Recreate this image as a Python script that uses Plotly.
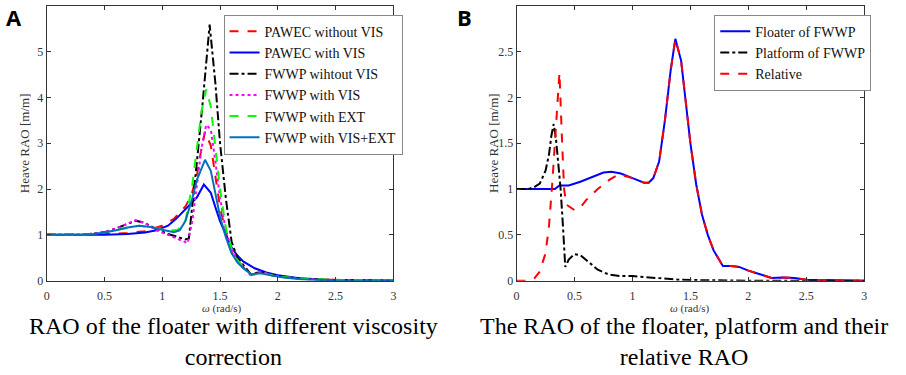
import plotly.graph_objects as go

# ---------------- Panel A data ----------------
wA_pawec_novis = [0, 0.3, 0.5, 0.7, 0.85, 1.0, 1.1, 1.2, 1.25, 1.3, 1.34, 1.37, 1.42, 1.46, 1.5, 1.55, 1.6, 1.65, 1.7, 1.77, 1.85, 1.95, 2.05, 2.2, 2.4, 2.6, 3.0]
rA_pawec_novis = [1.0, 1.0, 1.02, 1.04, 1.08, 1.2, 1.35, 1.62, 1.85, 2.3, 2.9, 3.25, 2.95, 2.3, 1.6, 1.05, 0.62, 0.45, 0.3, 0.12, 0.2, 0.12, 0.08, 0.04, 0.02, 0.01, 0.0]

wA_pawec_vis = [0, 0.3, 0.5, 0.7, 0.85, 0.95, 1.05, 1.12, 1.2, 1.25, 1.3, 1.36, 1.42, 1.46, 1.5, 1.55, 1.6, 1.65, 1.7, 1.8, 1.9, 2.0, 2.1, 2.2, 2.4, 2.6, 3.0]
rA_pawec_vis = [1.0, 1.0, 1.0, 1.02, 1.05, 1.1, 1.2, 1.35, 1.55, 1.68, 1.82, 2.1, 1.92, 1.6, 1.3, 1.0, 0.72, 0.55, 0.42, 0.27, 0.18, 0.12, 0.08, 0.05, 0.02, 0.01, 0.0]

wA_fwwp_novis = [0, 0.3, 0.4, 0.5, 0.6, 0.7, 0.77, 0.85, 0.95, 1.05, 1.15, 1.2, 1.23, 1.27, 1.3, 1.35, 1.41, 1.46, 1.5, 1.55, 1.6, 1.65, 1.7, 1.77, 1.85, 1.95, 2.05, 2.2, 2.4, 2.6, 3.0]
rA_fwwp_novis = [1.0, 1.0, 1.03, 1.06, 1.14, 1.25, 1.31, 1.26, 1.12, 1.02, 0.93, 0.9, 0.92, 1.8, 2.6, 3.9, 5.59, 4.3, 3.0, 1.8, 0.85, 0.5, 0.35, 0.13, 0.2, 0.12, 0.08, 0.04, 0.02, 0.01, 0.0]

wA_fwwp_vis = [0, 0.3, 0.4, 0.5, 0.6, 0.7, 0.77, 0.85, 0.95, 1.05, 1.15, 1.22, 1.26, 1.3, 1.34, 1.38, 1.42, 1.46, 1.5, 1.55, 1.6, 1.65, 1.7, 1.77, 1.85, 1.95, 2.05, 2.2, 2.4, 2.6, 3.0]
rA_fwwp_vis = [1.0, 1.0, 1.03, 1.06, 1.14, 1.25, 1.32, 1.26, 1.1, 1.0, 0.9, 0.82, 1.3, 2.1, 2.9, 3.4, 3.3, 2.6, 1.8, 1.1, 0.7, 0.45, 0.3, 0.1, 0.2, 0.12, 0.08, 0.04, 0.02, 0.01, 0.0]

wA_fwwp_ext = [0, 0.3, 0.4, 0.5, 0.6, 0.7, 0.8, 0.9, 1.0, 1.07, 1.13, 1.2, 1.26, 1.3, 1.34, 1.38, 1.42, 1.46, 1.5, 1.55, 1.6, 1.65, 1.7, 1.77, 1.85, 1.95, 2.05, 2.2, 2.4, 2.6, 3.0]
rA_fwwp_ext = [1.0, 1.0, 1.02, 1.05, 1.1, 1.16, 1.2, 1.17, 1.12, 1.1, 1.1, 1.3, 2.1, 2.9, 3.7, 4.18, 3.8, 2.9, 2.0, 1.15, 0.68, 0.45, 0.3, 0.13, 0.18, 0.12, 0.08, 0.04, 0.02, 0.01, 0.0]

wA_fwwp_visext = [0, 0.3, 0.4, 0.5, 0.6, 0.7, 0.8, 0.9, 1.0, 1.1, 1.15, 1.2, 1.26, 1.3, 1.37, 1.42, 1.46, 1.5, 1.55, 1.6, 1.65, 1.7, 1.77, 1.85, 1.95, 2.05, 2.2, 2.4, 2.6, 3.0]
rA_fwwp_visext = [1.0, 1.0, 1.02, 1.05, 1.1, 1.16, 1.2, 1.17, 1.11, 1.06, 1.1, 1.3, 1.8, 2.2, 2.64, 2.4, 1.9, 1.4, 0.95, 0.6, 0.4, 0.27, 0.14, 0.16, 0.11, 0.07, 0.03, 0.01, 0.0, 0.0]

# ---------------- Panel B data ----------------
wB_floater = [0, 0.3, 0.33, 0.37, 0.45, 0.55, 0.65, 0.75, 0.82, 0.9, 1.0, 1.1, 1.14, 1.18, 1.23, 1.28, 1.33, 1.37, 1.42, 1.46, 1.5, 1.55, 1.6, 1.65, 1.7, 1.78, 1.85, 1.92, 2.0, 2.1, 2.2, 2.3, 2.4, 2.5, 2.7, 3.0]
rB_floater = [1.0, 1.0, 1.0, 1.04, 1.04, 1.08, 1.13, 1.18, 1.19, 1.17, 1.12, 1.07, 1.07, 1.12, 1.3, 1.75, 2.3, 2.64, 2.4, 1.95, 1.5, 1.05, 0.72, 0.5, 0.33, 0.16, 0.16, 0.15, 0.11, 0.07, 0.03, 0.035, 0.03, 0.01, 0.005, 0.0]

wB_platform = [0, 0.1, 0.15, 0.2, 0.25, 0.28, 0.3, 0.32, 0.34, 0.36, 0.38, 0.4, 0.42, 0.45, 0.5, 0.55, 0.6, 0.7, 0.8, 0.9, 1.0, 1.2, 1.4, 1.6, 2.0, 3.0]
rB_platform = [1.0, 1.0, 1.02, 1.06, 1.2, 1.38, 1.58, 1.71, 1.55, 1.25, 1.0, 0.6, 0.15, 0.23, 0.29, 0.28, 0.23, 0.12, 0.065, 0.05, 0.05, 0.03, 0.01, 0.005, 0.0, 0.0]

wB_relative = [0, 0.1, 0.15, 0.2, 0.25, 0.28, 0.31, 0.34, 0.37, 0.39, 0.41, 0.43, 0.47, 0.5, 0.55, 0.6, 0.7, 0.8, 0.88, 1.0, 1.1, 1.14, 1.18, 1.23, 1.28, 1.33, 1.37, 1.42, 1.46, 1.5, 1.55, 1.6, 1.65, 1.7, 1.78, 1.85, 1.92, 2.0, 2.1, 2.2, 2.3, 2.4, 2.5, 2.7, 3.0]
rB_relative = [0.0, 0.0, 0.02, 0.1, 0.3, 0.6, 1.1, 1.7, 2.27, 1.6, 1.0, 0.83, 0.79, 0.77, 0.8, 0.88, 1.0, 1.1, 1.16, 1.12, 1.07, 1.07, 1.12, 1.3, 1.75, 2.3, 2.64, 2.4, 1.95, 1.5, 1.05, 0.72, 0.5, 0.33, 0.16, 0.16, 0.15, 0.11, 0.07, 0.03, 0.035, 0.03, 0.01, 0.005, 0.0]

x_ticks = [0, 0.5, 1, 1.5, 2, 2.5, 3]
x_tick_text = ["0", "0.5", "1", "1.5", "2", "2.5", "3"]
yA_ticks = [0, 1, 2, 3, 4, 5, 6]
yB_ticks = [0, 0.5, 1, 1.5, 2, 2.5, 3]
yB_tick_text = ["0", "0.5", "1", "1.5", "2", "2.5", "3"]

y_title = "Heave RAO [m/m]"
x_title = "<i>ω</i> (rad/s)"
caption_A = "RAO of the floater with different viscosity<br>correction"
caption_B = "The RAO of the floater, platform and their<br>relative RAO"

SERIF = "Liberation Serif"
W = 2

fig = go.Figure()

seriesA = [
    ("PAWEC without VIS", wA_pawec_novis, rA_pawec_novis, "#ff0000", "dash"),
    ("PAWEC with VIS", wA_pawec_vis, rA_pawec_vis, "#0000ff", "solid"),
    ("FWWP wihtout VIS", wA_fwwp_novis, rA_fwwp_novis, "#000000", "dashdot"),
    ("FWWP with VIS", wA_fwwp_vis, rA_fwwp_vis, "#ff00ff", "dot"),
    ("FWWP with EXT", wA_fwwp_ext, rA_fwwp_ext, "#00ff00", "dash"),
    ("FWWP with VIS+EXT", wA_fwwp_visext, rA_fwwp_visext, "#0072BD", "solid"),
]
for name, xs, ys, col, dash in seriesA:
    fig.add_trace(go.Scatter(x=xs, y=ys, mode="lines", name=name,
                             line=dict(color=col, dash=dash, width=W),
                             xaxis="x", yaxis="y", legend="legend"))

seriesB = [
    ("Floater of FWWP", wB_floater, rB_floater, "#0000ff", "solid"),
    ("Platform of FWWP", wB_platform, rB_platform, "#000000", "dashdot"),
    ("Relative", wB_relative, rB_relative, "#ff0000", "dash"),
]
for name, xs, ys, col, dash in seriesB:
    fig.add_trace(go.Scatter(x=xs, y=ys, mode="lines", name=name,
                             line=dict(color=col, dash=dash, width=W),
                             xaxis="x2", yaxis="y2", legend="legend2"))

axis_common = dict(showgrid=False, zeroline=False, showline=True, mirror="ticks",
                   linecolor="#333333", linewidth=1, ticks="inside", ticklen=4,
                   tickcolor="#333333",
                   tickfont=dict(family=SERIF, size=12, color="#333333"))

yd = [(375 - 286) / 375, (375 - 6) / 375]
legend_common = dict(xanchor="left", yanchor="top", bgcolor="white",
                     bordercolor="#888888", borderwidth=1,
                     font=dict(family=SERIF, size=14, color="#111111"),
                     tracegroupgap=0, itemwidth=30)
fig.update_layout(
    width=906, height=375,
    margin=dict(l=0, r=0, t=0, b=0),
    paper_bgcolor="white", plot_bgcolor="white",
    xaxis=dict(domain=[44 / 906, 393 / 906], range=[0, 3], tickvals=x_ticks,
               ticktext=x_tick_text, anchor="y", ticklabelstandoff=4, **axis_common),
    yaxis=dict(domain=yd, range=[0, 6], tickvals=yA_ticks, anchor="x", **axis_common),
    xaxis2=dict(domain=[517 / 906, 867 / 906], range=[0, 3], tickvals=x_ticks,
                ticktext=x_tick_text, anchor="y2", ticklabelstandoff=4, **axis_common),
    yaxis2=dict(domain=yd, range=[0, 3], tickvals=yB_ticks, ticktext=yB_tick_text,
                anchor="x2", **axis_common),
    legend=dict(x=222 / 906, y=(375 - 15) / 375, **legend_common),
    legend2=dict(x=716 / 906, y=(375 - 15) / 375, **legend_common),
    showlegend=True,
)

ann = []
for txt, xp in [("<b>A</b>", 1), ("<b>B</b>", 455)]:
    ann.append(dict(x=xp / 906, y=1.0, xref="paper", yref="paper", text=txt,
                    showarrow=False, xanchor="left", yanchor="top",
                    font=dict(family="Open Sans", size=22, color="black")))
for xp in [21 / 906, 494 / 906]:
    ann.append(dict(x=xp, y=1 - 146 / 375, xref="paper", yref="paper", text=y_title,
                    textangle=-90, showarrow=False, xanchor="center", yanchor="middle",
                    font=dict(family=SERIF, size=13, color="#333333")))
for xp in [220 / 906, 692 / 906]:
    ann.append(dict(x=xp, y=1 - 314 / 375, xref="paper", yref="paper", text=x_title,
                    showarrow=False, xanchor="center", yanchor="middle",
                    font=dict(family=SERIF, size=11, color="#333333")))
for text, xp in [(caption_A, 232), (caption_B, 686)]:
    ann.append(dict(x=xp / 906, y=1 - 348 / 375, xref="paper", yref="paper",
                    text=text, showarrow=False, xanchor="center", yanchor="middle",
                    font=dict(family=SERIF, size=24, color="black")))
fig.update_layout(annotations=ann)

fig.write_html("out.html", post_script="document.body.style.margin='0px';",
               config={"displayModeBar": False})
